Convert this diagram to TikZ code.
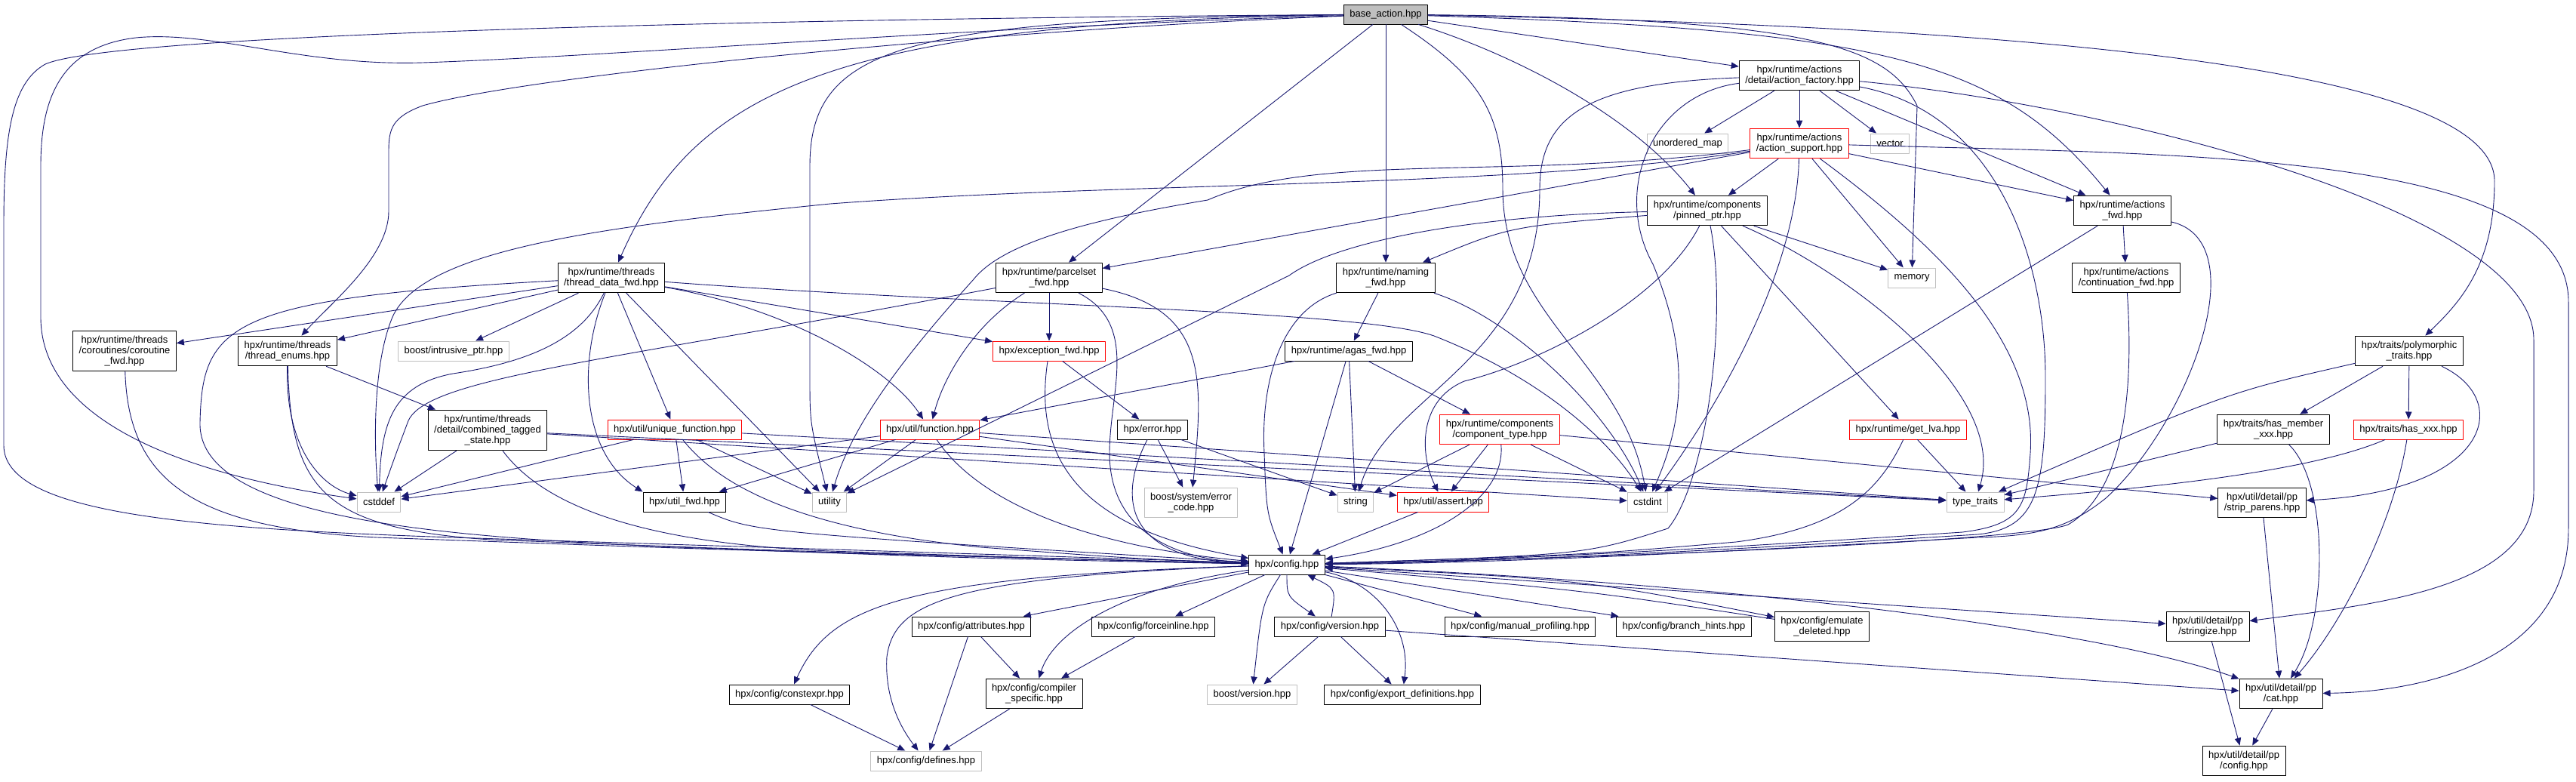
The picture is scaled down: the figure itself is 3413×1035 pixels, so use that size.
\documentclass[tikz,border=0pt]{standalone}
\usepackage{fontspec}
\setmainfont{Liberation Sans}
\usetikzlibrary{arrows.meta}
\definecolor{edgeblue}{HTML}{191970}
\definecolor{boxgray}{HTML}{BFBFBF}
\begin{document}
\begin{tikzpicture}[x=0.5pt,y=-0.5pt,line cap=round,line join=round,
  hdr/.style={draw=black,fill=white,line width=0.5pt,align=center,
    inner xsep=4pt,inner ysep=3.4pt,minimum height=13pt,
    font=\fontsize{6.5}{7}\selectfont},
  syshdr/.style={hdr,draw=boxgray},
  cuthdr/.style={hdr,draw=red},
  roothdr/.style={hdr,fill=boxgray},
  dep/.style={draw=edgeblue,line width=0.45pt,-{Triangle[length=5pt,width=4.2pt]}}]
  \useasboundingbox (0,0) rectangle (3413,1035);
  \node[roothdr] (base) at (1836,19) {base\_action.hpp};
  \node[hdr] (factory) at (2384,100) {hpx/runtime/actions\\/detail/action\_factory.hpp};
  \node[syshdr] (umap) at (2236,190) {unordered\_map};
  \node[cuthdr] (support) at (2384,190) {hpx/runtime/actions\\/action\_support.hpp};
  \node[syshdr] (vector) at (2504,190) {vector};
  \node[hdr] (pinned) at (2262,279) {hpx/runtime/components\\/pinned\_ptr.hpp};
  \node[hdr] (actfwd) at (2812,279) {hpx/runtime/actions\\\_fwd.hpp};
  \node[hdr] (tdfwd) at (810,368) {hpx/runtime/threads\\/thread\_data\_fwd.hpp};
  \node[hdr] (parcel) at (1390,368) {hpx/runtime/parcelset\\\_fwd.hpp};
  \node[hdr] (naming) at (1836,368) {hpx/runtime/naming\\\_fwd.hpp};
  \node[syshdr] (memory) at (2533,368) {memory};
  \node[hdr] (contfwd) at (2817,368) {hpx/runtime/actions\\/continuation\_fwd.hpp};
  \node[hdr] (coro) at (165,465) {hpx/runtime/threads\\/coroutines/coroutine\\\_fwd.hpp};
  \node[hdr] (tenums) at (381,465) {hpx/runtime/threads\\/thread\_enums.hpp};
  \node[syshdr] (intrusive) at (601,465) {boost/intrusive\_ptr.hpp};
  \node[cuthdr] (excfwd) at (1390,465) {hpx/exception\_fwd.hpp};
  \node[hdr] (agas) at (1787,465) {hpx/runtime/agas\_fwd.hpp};
  \node[hdr] (poly) at (3192,465) {hpx/traits/polymorphic\\\_traits.hpp};
  \node[hdr] (cts) at (646,570) {hpx/runtime/threads\\/detail/combined\_tagged\\\_state.hpp};
  \node[cuthdr] (ufunc) at (894,569) {hpx/util/unique\_function.hpp};
  \node[cuthdr] (function) at (1232,569) {hpx/util/function.hpp};
  \node[hdr] (error) at (1527,569) {hpx/error.hpp};
  \node[cuthdr] (comptype) at (1987,569) {hpx/runtime/components\\/component\_type.hpp};
  \node[cuthdr] (getlva) at (2528,569) {hpx/runtime/get\_lva.hpp};
  \node[hdr] (hasmember) at (3012,569) {hpx/traits/has\_member\\\_xxx.hpp};
  \node[cuthdr] (hasxxx) at (3191,569) {hpx/traits/has\_xxx.hpp};
  \node[syshdr] (cstddef) at (502,665) {cstddef};
  \node[hdr] (utilfwd) at (907,665) {hpx/util\_fwd.hpp};
  \node[syshdr] (utility) at (1099,665) {utility};
  \node[syshdr] (errcode) at (1578,666) {boost/system/error\\\_code.hpp};
  \node[syshdr] (string) at (1796,665) {string};
  \node[cuthdr] (assert) at (1912,665) {hpx/util/assert.hpp};
  \node[syshdr] (cstdint) at (2183,665) {cstdint};
  \node[syshdr] (typetraits) at (2617,665) {type\_traits};
  \node[hdr] (strip) at (2997,666) {hpx/util/detail/pp\\/strip\_parens.hpp};
  \node[hdr] (config) at (1705,748) {hpx/config.hpp};
  \node[hdr] (attributes) at (1287,830) {hpx/config/attributes.hpp};
  \node[hdr] (forceinline) at (1528,830) {hpx/config/forceinline.hpp};
  \node[hdr] (version) at (1762,830) {hpx/config/version.hpp};
  \node[hdr] (manual) at (2014,830) {hpx/config/manual\_profiling.hpp};
  \node[hdr] (branch) at (2231,830) {hpx/config/branch\_hints.hpp};
  \node[hdr] (emulate) at (2414,830) {hpx/config/emulate\\\_deleted.hpp};
  \node[hdr] (stringize) at (2925,830) {hpx/util/detail/pp\\/stringize.hpp};
  \node[hdr] (constexpr) at (1046,920) {hpx/config/constexpr.hpp};
  \node[hdr] (compspec) at (1370,919) {hpx/config/compiler\\\_specific.hpp};
  \node[syshdr] (bversion) at (1659,920) {boost/version.hpp};
  \node[hdr] (exportdef) at (1858,920) {hpx/config/export\_definitions.hpp};
  \node[hdr] (cat) at (3022,919) {hpx/util/detail/pp\\/cat.hpp};
  \node[syshdr] (defines) at (1227,1008) {hpx/config/defines.hpp};
  \node[hdr] (ppconfig) at (2973,1008) {hpx/util/detail/pp\\/config.hpp};

  \foreach \a/\b in {base/parcel,base/naming,base/factory,factory/umap,factory/support,
      factory/vector,factory/actfwd,support/pinned,support/parcel,support/actfwd,
      support/memory,pinned/getlva,pinned/memory,actfwd/contfwd,actfwd/cstdint,
      naming/agas,agas/comptype,agas/string,agas/function,agas/config,comptype/string,
      comptype/assert,comptype/cstdint,comptype/strip,assert/config,getlva/typetraits,
      poly/hasmember,poly/hasxxx,hasmember/typetraits,strip/cat,stringize/ppconfig,
      cat/ppconfig,tdfwd/coro,tdfwd/tenums,tdfwd/intrusive,tdfwd/utility,tdfwd/ufunc,
      tdfwd/excfwd,tenums/cts,cts/cstddef,cts/cstdint,cts/typetraits,ufunc/utilfwd,
      ufunc/utility,ufunc/cstddef,ufunc/typetraits,function/utilfwd,function/utility,
      function/cstddef,function/typetraits,function/assert,parcel/excfwd,excfwd/error,
      error/errcode,error/string,config/attributes,config/forceinline,config/manual,
      config/branch,config/stringize,version/bversion,version/exportdef,version/cat,
      attributes/compspec,attributes/defines,forceinline/compspec,constexpr/defines,
      compspec/defines}
    \draw[dep] (\a) -- (\b);

  \draw[dep] (base) .. controls (1000,25) and (150,45) .. (60,85)
    .. controls (15,110) and (5,180) .. (5,300) -- (5,590)
    .. controls (5,680) and (250,700) .. (600,712) .. controls (1100,728) and (1500,740) .. (config);
  \draw[dep] (base) .. controls (1300,35) and (800,75) .. (560,83)
    .. controls (400,88) and (280,40) .. (180,50) .. controls (80,62) and (54,130) .. (54,220)
    -- (54,420) .. controls (54,560) and (250,630) .. (cstddef);
  \draw[dep] (base) .. controls (1300,40) and (700,100) .. (560,140)
    .. controls (520,155) and (515,170) .. (515,200) -- (515,280)
    .. controls (515,340) and (440,400) .. (tenums);
  \draw[dep] (base) .. controls (1100,30) and (920,120) .. (tdfwd);
  \draw[dep] (base) .. controls (1200,25) and (1073,60) .. (1073,220) -- (1073,500)
    .. controls (1073,560) .. (utility);
  \draw[dep] (base) .. controls (1960,100) and (1991,150) .. (1991,250)
    .. controls (1991,420) and (2150,480) .. (cstdint);
  \draw[dep] (base) .. controls (2000,70) and (2160,150) .. (pinned);
  \draw[dep] (base) .. controls (2400,25) and (2500,60) .. (2540,140) -- (memory);
  \draw[dep] (base) .. controls (2700,35) and (3305,90) .. (3305,240)
    .. controls (3305,350) and (3260,400) .. (poly);
  \draw[dep] (base) .. controls (2500,40) and (2650,80) .. (actfwd);

  \draw[dep] (factory) .. controls (2110,110) and (2040,150) .. (2040,250)
    .. controls (2040,480) and (1840,520) .. (string);
  \draw[dep] (factory) .. controls (2190,125) and (2135,250) .. (2190,350)
    .. controls (2240,470) and (2230,560) .. (cstdint);
  \draw[dep] (factory) .. controls (2800,140) and (3357,280) .. (3357,450) -- (3357,650)
    .. controls (3357,780) and (3150,800) .. (stringize);
  \draw[dep] (factory) .. controls (2650,150) and (2710,350) .. (2710,500)
    .. controls (2710,650) and (2700,700) .. (2620,708) .. controls (2300,728) and (2000,744) .. (config);

  \draw[dep] (support) .. controls (2000,240) and (1750,200) .. (1600,265)
    .. controls (1450,290) and (1330,320) .. (1290,370)
    .. controls (1200,470) and (1130,560) .. (utility);
  \draw[dep] (support) .. controls (2000,250) and (1500,240) .. (1100,270)
    .. controls (800,300) and (560,330) .. (520,420) .. controls (495,480) and (495,580) .. (cstddef);
  \draw[dep] (support) .. controls (2900,205) and (3403,200) .. (3403,400) -- (3403,700)
    .. controls (3403,880) and (3200,917) .. (cat);
  \draw[dep] (support) .. controls (2380,350) and (2290,520) .. (cstdint);
  \draw[dep] (support) .. controls (2560,320) and (2700,450) .. (2690,600)
    .. controls (2685,670) and (2680,695) .. (2600,705) .. controls (2300,725) and (2000,742) .. (config);

  \draw[dep] (pinned) .. controls (2000,300) .. (naming);
  \draw[dep] (pinned) .. controls (1950,285) and (1770,320) .. (1708,365) -- (utility);
  \draw[dep] (pinned) .. controls (2200,400) and (2040,480) .. (1940,505)
    .. controls (1880,530) and (1880,600) .. (assert);
  \draw[dep] (pinned) .. controls (2290,420) and (2260,640) .. (2210,700)
    .. controls (2100,735) .. (config);
  \draw[dep] (pinned) .. controls (2450,360) and (2660,520) .. (typetraits);

  \draw[dep] (actfwd) .. controls (2990,320) and (2900,560) .. (2790,660)
    .. controls (2740,700) and (2700,710) .. (2620,712) .. controls (2300,730) and (2000,746) .. (config);
  \draw[dep] (contfwd) .. controls (2830,560) and (2800,660) .. (2740,695)
    .. controls (2700,712) and (2300,735) .. (config);
  \draw[dep] (getlva) .. controls (2490,650) and (2440,700) .. (2300,718)
    .. controls (2100,735) .. (config);

  \draw[dep] (naming) .. controls (2000,420) and (2130,540) .. (cstdint);
  \draw[dep] (naming) .. controls (1700,410) and (1670,500) .. (1675,600)
    .. controls (1678,680) .. (config);
  \draw[dep] (comptype) .. controls (1995,660) and (1900,720) .. (config);

  \draw[dep] (poly) .. controls (2950,520) .. (typetraits);
  \draw[dep] (poly) .. controls (3330,530) and (3300,650) .. (strip);
  \draw[dep] (hasmember) .. controls (3085,640) and (3085,820) .. (cat);
  \draw[dep] (hasxxx) .. controls (3050,630) and (2800,650) .. (typetraits);
  \draw[dep] (hasxxx) .. controls (3170,700) and (3100,830) .. (cat);

  \draw[dep] (tdfwd) .. controls (770,450) and (700,480) .. (600,495)
    .. controls (520,510) and (505,560) .. (cstddef);
  \draw[dep] (tdfwd) .. controls (300,395) and (268,430) .. (265,560)
    .. controls (262,690) and (600,712) .. (900,725) .. controls (1300,740) .. (config);
  \draw[dep] (tdfwd) .. controls (765,480) and (770,600) .. (utilfwd.north west);
  \draw[dep] (tdfwd) .. controls (1050,410) and (1180,490) .. (function);
  \draw[dep] (tdfwd) .. controls (1300,405) and (1800,410) .. (1900,445)
    .. controls (2040,500) and (2130,580) .. (cstdint);
  \draw[dep] (tenums) .. controls (378,600) and (430,645) .. (cstddef);
  \draw[dep] (tenums) .. controls (385,650) and (430,700) .. (650,715)
    .. controls (1100,732) .. (config);
  \draw[dep] (coro) .. controls (170,640) and (260,700) .. (500,712)
    .. controls (1000,730) .. (config);
  \draw[dep] (cts) .. controls (720,670) and (850,720) .. (1100,730)
    .. controls (1400,740) .. (config);
  \draw[dep] (ufunc) .. controls (950,640) and (1050,700) .. (1300,725)
    .. controls (1500,740) .. (config);
  \draw[dep] (function) .. controls (1300,670) and (1450,725) .. (config);
  \draw[dep] (utilfwd) .. controls (1000,705) .. (config);

  \draw[dep] (parcel) .. controls (1290,430) and (1250,500) .. (function);
  \draw[dep] (parcel) .. controls (1600,410) and (1595,500) .. (errcode);
  \draw[dep] (parcel) .. controls (1510,430) and (1470,520) .. (1470,600)
    .. controls (1470,700) and (1550,740) .. (config);
  \draw[dep] (parcel) .. controls (800,480) and (560,500) .. (540,560)
    .. controls (525,600) .. (cstddef);
  \draw[dep] (excfwd) .. controls (1370,600) and (1420,700) .. (config);
  \draw[dep] (error) .. controls (1485,650) and (1480,740) .. (config);

  \draw[dep] (config) .. controls (1200,765) and (1100,800) .. (constexpr);
  \draw[dep] (config) .. controls (1250,765) and (1185,800) .. (1175,870)
    .. controls (1172,920) and (1190,960) .. (defines);
  \draw[dep] (config) .. controls (1480,780) and (1395,840) .. (compspec);
  \draw[dep] (config) .. controls (1672,800) .. (bversion);
  \draw[dep] (config) .. controls (1705,790) .. (version);
  \draw[dep] (version) .. controls (1770,780) .. (config);
  \draw[dep] (config) .. controls (1820,770) and (1870,830) .. (exportdef);
  \draw[dep] (config) .. controls (2100,768) .. (emulate);
  \draw[dep] (emulate) .. controls (2100,782) .. (config);
  \draw[dep] (config) .. controls (2350,775) and (2800,840) .. (cat);
\end{tikzpicture}
\end{document}
